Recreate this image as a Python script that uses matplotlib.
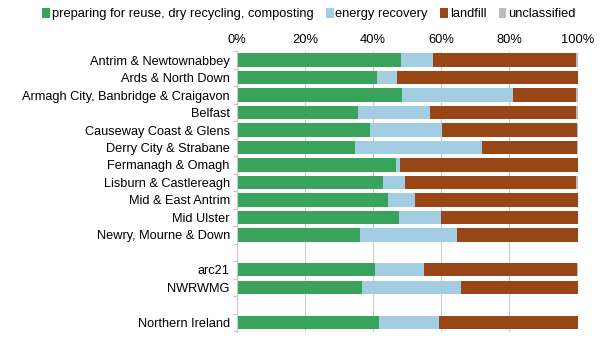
import numpy as np
import matplotlib
matplotlib.use('Agg')
import matplotlib.pyplot as plt

plt.rcParams['font.family'] = ['Liberation Sans', 'DejaVu Sans']

# data (percent of household waste)
categories = ['Antrim & Newtownabbey', 'Ards & North Down',
              'Armagh City, Banbridge & Craigavon', 'Belfast',
              'Causeway Coast & Glens', 'Derry City & Strabane',
              'Fermanagh & Omagh', 'Lisburn & Castlereagh',
              'Mid & East Antrim', 'Mid Ulster', 'Newry, Mourne & Down',
              '', 'arc21', 'NWRWMG', '', 'Northern Ireland']
recycling = [48.3, 41.2, 48.6, 35.5, 39.0, 34.8, 46.7, 42.8, 44.4, 47.6, 36.2,
             0, 40.5, 36.8, 0, 41.6]
energy = [9.4, 5.7, 32.3, 21.1, 21.1, 37.2, 1.2, 6.7, 8.0, 12.4, 28.3,
          0, 14.3, 29.1, 0, 17.8]
landfill = [41.7, 53.1, 18.7, 42.9, 39.7, 27.9, 52.1, 49.9, 47.6, 40.0, 35.5,
            0, 44.9, 34.1, 0, 40.6]
unclassified = [0.6, 0.0, 0.4, 0.5, 0.2, 0.1, 0.0, 0.6, 0.0, 0.0, 0.0,
                0, 0.3, 0.0, 0, 0.0]

series = [('preparing for reuse, dry recycling, composting', recycling, '#3aa35b'),
          ('energy recovery', energy, '#a3cde3'),
          ('landfill', landfill, '#984616'),
          ('unclassified', unclassified, '#bdbdbd')]

fig = plt.figure(figsize=(6, 3.39), dpi=100)
ax = fig.add_axes([0.3945, 0.021, 0.5683, 0.830])

y = np.arange(len(categories))
left = np.zeros(len(categories))
handles = []
for name, vals, color in series:
    vals = np.array(vals, dtype=float)
    b = ax.barh(y, vals, left=left, height=0.76, color=color, label=name, zorder=2)
    handles.append(b)
    left += vals

ax.set_xlim(0, 100)
ax.set_ylim(len(categories) - 0.45, -0.55)
ax.set_xticks(np.arange(0, 101, 20))
ax.set_xticklabels([f'{v}%' for v in range(0, 101, 20)])
ax.xaxis.tick_top()
ax.tick_params(axis='x', length=0, labelsize=9.3, pad=3)
ax.set_yticks(y)
ax.set_yticklabels(categories)
ax.tick_params(axis='y', which='major', length=0, labelsize=9.2, pad=5)
ax.set_yticks(np.arange(-0.5, len(categories), 1), minor=True)
ax.tick_params(axis='y', which='minor', length=3, color='#c8c8c8', width=0.8)
ax.grid(axis='x', color='#cccccc', linewidth=0.8, zorder=0)
for s in ['top', 'right', 'bottom']:
    ax.spines[s].set_visible(False)
ax.spines['left'].set_color('#c8c8c8')
ax.spines['left'].set_linewidth(0.8)

fig.legend(handles=handles, loc='upper center', bbox_to_anchor=(0.515, 1.01),
           ncol=4, frameon=False, fontsize=9.3, handlelength=0.6,
           handleheight=0.75, handletextpad=0.15, columnspacing=0.95)

fig.savefig('out.png', dpi=100)
